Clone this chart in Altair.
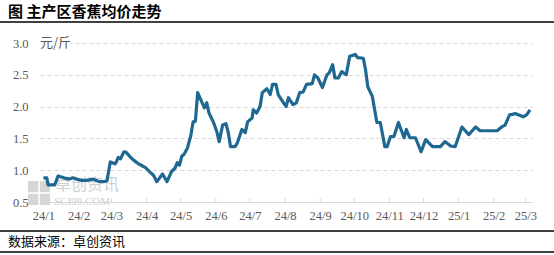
import altair as alt
import pandas as pd

# ---- data ----
dates = [
    "2024-01-01", "2024-01-04", "2024-01-05", "2024-01-11", "2024-01-14", "2024-01-19",
    "2024-01-24", "2024-01-27", "2024-01-30", "2024-02-04", "2024-02-08", "2024-02-14",
    "2024-02-15", "2024-02-19", "2024-02-23", "2024-02-26", "2024-02-29", "2024-03-04",
    "2024-03-05", "2024-03-07", "2024-03-09", "2024-03-12", "2024-03-14", "2024-03-18",
    "2024-03-21", "2024-03-25", "2024-03-28", "2024-03-31", "2024-04-04", "2024-04-07",
    "2024-04-10", "2024-04-15", "2024-04-19", "2024-04-23", "2024-04-26", "2024-04-28",
    "2024-04-30", "2024-05-02", "2024-05-04", "2024-05-07", "2024-05-10", "2024-05-12",
    "2024-05-14", "2024-05-15", "2024-05-16", "2024-05-20", "2024-05-22", "2024-05-24",
    "2024-05-26", "2024-05-30", "2024-06-02", "2024-06-04", "2024-06-07", "2024-06-10",
    "2024-06-12", "2024-06-14", "2024-06-18", "2024-06-20", "2024-06-24", "2024-06-27",
    "2024-06-29", "2024-07-03", "2024-07-04", "2024-07-07", "2024-07-10", "2024-07-12",
    "2024-07-16", "2024-07-19", "2024-07-21", "2024-07-24", "2024-07-26", "2024-07-30",
    "2024-08-02", "2024-08-04", "2024-08-08", "2024-08-11", "2024-08-14", "2024-08-17",
    "2024-08-20", "2024-08-25", "2024-08-27", "2024-08-30", "2024-09-03", "2024-09-07",
    "2024-09-09", "2024-09-12", "2024-09-14", "2024-09-17", "2024-09-20", "2024-09-24",
    "2024-09-27", "2024-10-02", "2024-10-04", "2024-10-09", "2024-10-11", "2024-10-13",
    "2024-10-17", "2024-10-21", "2024-10-24", "2024-10-28", "2024-10-30", "2024-11-02",
    "2024-11-05", "2024-11-09", "2024-11-14", "2024-11-16", "2024-11-19", "2024-11-24",
    "2024-11-29", "2024-12-03", "2024-12-09", "2024-12-16", "2024-12-20", "2024-12-25",
    "2024-12-29", "2025-01-04", "2025-01-10", "2025-01-16", "2025-01-20", "2025-02-04",
    "2025-02-08", "2025-02-11", "2025-02-15", "2025-02-20", "2025-02-27", "2025-03-02",
    "2025-03-05",
]
prices = [
    0.88, 0.88, 0.77, 0.77, 0.91, 0.88,
    0.86, 0.88, 0.86, 0.84, 0.84, 0.86,
    0.85, 0.82, 0.82, 0.83, 1.13, 1.10,
    1.12, 1.20, 1.18, 1.29, 1.28, 1.20,
    1.15, 1.10, 1.07, 1.04, 0.97, 0.92,
    0.82, 0.94, 0.82, 0.98, 1.03, 1.12,
    1.08, 1.22, 1.25, 1.35, 1.55, 1.76,
    1.77, 2.00, 2.22, 2.06, 1.98, 2.06,
    1.90, 1.75, 1.60, 1.45, 1.71, 1.73,
    1.59, 1.37, 1.37, 1.43, 1.64, 1.59,
    1.76, 1.82, 1.95, 1.90, 2.00, 2.22,
    2.28, 2.19, 2.35, 2.35, 2.19, 2.08,
    2.00, 2.14, 2.03, 2.06, 2.22, 2.23,
    2.35, 2.36, 2.50, 2.45, 2.30, 2.50,
    2.53, 2.66, 2.45, 2.45, 2.55, 2.50,
    2.79, 2.82, 2.77, 2.76, 2.58, 2.31,
    2.16, 1.75, 1.75, 1.37, 1.37, 1.53,
    1.53, 1.75, 1.51, 1.64, 1.51, 1.51,
    1.29, 1.48, 1.37, 1.37, 1.45, 1.38,
    1.37, 1.68, 1.56, 1.68, 1.62, 1.62,
    1.68, 1.71, 1.87, 1.89, 1.84, 1.87,
    1.95,
]
tick_dates = [
    "2024-01-01", "2024-02-01", "2024-03-01", "2024-04-01", "2024-05-01",
    "2024-06-01", "2024-07-01", "2024-08-01", "2024-09-01", "2024-10-01",
    "2024-11-01", "2024-12-01", "2025-01-01", "2025-02-01", "2025-03-01",
]
y_ticks = [0.5, 1.0, 1.5, 2.0, 2.5, 3.0]
title_text = "图  主产区香蕉均价走势"
unit_text = "元/斤"
source_text = "数据来源：卓创资讯"
wm_cn = "卓创资讯"
wm_en = "SCI99.COM"

# ---- chart ----
df = pd.DataFrame({"date": dates, "price": prices})
tick_df = pd.DataFrame({"date": tick_dates})
one = pd.DataFrame({"k": [0]})

tick_ms = [int(pd.Timestamp(d, tz="UTC").timestamp() * 1000) for d in tick_dates]
dom_ms = [int(pd.Timestamp("2023-12-29", tz="UTC").timestamp() * 1000),
          int(pd.Timestamp("2025-03-06T18:00", tz="UTC").timestamp() * 1000)]

LABEL_FONT = "Liberation Serif"
GRAY = "#595959"
LIGHT = "#d9d9d9"
LINE_COLOR = "#1f6891"

x_scale = alt.Scale(type="utc", domain=dom_ms)
x_axis = alt.Axis(
    values=tick_ms,
    labelExpr="utcFormat(datum.value, '%y/%-m')",
    title=None,
    labelFont=LABEL_FONT, labelFontSize=12.5, labelColor=GRAY,
    domainColor=LIGHT, ticks=False, grid=False, labelPadding=7,
)
y_axis = alt.Axis(
    values=y_ticks, format=".1f", title=None, grid=True,
    gridDash=[4, 3], gridColor=LIGHT, domain=False, ticks=False,
    labelPadding=12, labelFont=LABEL_FONT, labelFontSize=12.5, labelColor=GRAY,
)

# watermark (behind the line)
wm_rect = alt.Chart(one).mark_rect(color="#d6d6d6").encode(
    x=alt.value(-12), x2=alt.value(10), y=alt.value(138), y2=alt.value(162))
wm_v = alt.Chart(one).mark_rule(color="white", strokeWidth=1.5).encode(
    x=alt.value(-1), y=alt.value(138), y2=alt.value(162))
wm_h = alt.Chart(one).mark_rule(color="white", strokeWidth=1.5).encode(
    x=alt.value(-12), x2=alt.value(10), y=alt.value(150))
wm_t1 = alt.Chart(one).mark_text(
    text=wm_cn, font="Noto Sans CJK SC", fontSize=16, color="#d0d0d0", align="left", baseline="middle"
).encode(x=alt.value(15), y=alt.value(142))
wm_t2 = alt.Chart(one).mark_text(
    text=wm_en, font=LABEL_FONT, fontSize=11, color="#d0d0d0", align="left", baseline="middle"
).encode(x=alt.value(14), y=alt.value(159))

line = alt.Chart(df).mark_line(color=LINE_COLOR, strokeWidth=3.2, strokeJoin="round").encode(
    x=alt.X("date:T", scale=x_scale, axis=x_axis),
    y=alt.Y("price:Q", scale=alt.Scale(domain=[0.5, 3.0], nice=False, zero=False), axis=y_axis),
)

ticks = alt.Chart(tick_df).mark_rule(color=LIGHT).encode(
    x=alt.X("date:T", scale=x_scale, axis=x_axis),
    y=alt.value(155), y2=alt.value(159),
)

unit_bg = alt.Chart(one).mark_rect(color="white").encode(
    x=alt.value(-1), x2=alt.value(30), y=alt.value(-6), y2=alt.value(6))
unit = alt.Chart(one).mark_text(
    text=unit_text, font="Noto Sans CJK SC", fontSize=13, color=GRAY, align="left", baseline="middle"
).encode(x=alt.value(0), y=alt.value(0))

title = alt.Chart(one).mark_text(
    text=title_text, font="Noto Sans CJK SC", fontSize=15, fontWeight="bold", color="black",
    align="left", baseline="middle"
).encode(x=alt.value(-32), y=alt.value(-31))
top_rule = alt.Chart(one).mark_rule(color="black", strokeWidth=1.5).encode(
    x=alt.value(-40), x2=alt.value(514), y=alt.value(-21))
bot_rule1 = alt.Chart(one).mark_rule(color="black", strokeWidth=1.5).encode(
    x=alt.value(-40), x2=alt.value(514), y=alt.value(188))
bot_rule2 = alt.Chart(one).mark_rule(color="black", strokeWidth=1.5).encode(
    x=alt.value(-40), x2=alt.value(514), y=alt.value(209))
source = alt.Chart(one).mark_text(
    text=source_text, font="Noto Sans CJK SC", fontSize=13, color="black",
    align="left", baseline="middle"
).encode(x=alt.value(-32), y=alt.value(199))

chart = alt.layer(
    wm_rect, wm_v, wm_h, wm_t1, wm_t2, line, ticks, unit_bg, unit,
    title, top_rule, bot_rule1, bot_rule2, source,
).properties(
    width=492, height=159,
    autosize=alt.AutoSizeParams(type="none"),
    padding={"left": 40, "top": 43, "right": 22, "bottom": 53},
    background="white",
).configure_view(stroke=None).configure_axis(
    labelFont=LABEL_FONT, labelFontSize=12.5, labelColor=GRAY
)

chart.save("out.html", embed_options={"renderer": "svg", "actions": False})
